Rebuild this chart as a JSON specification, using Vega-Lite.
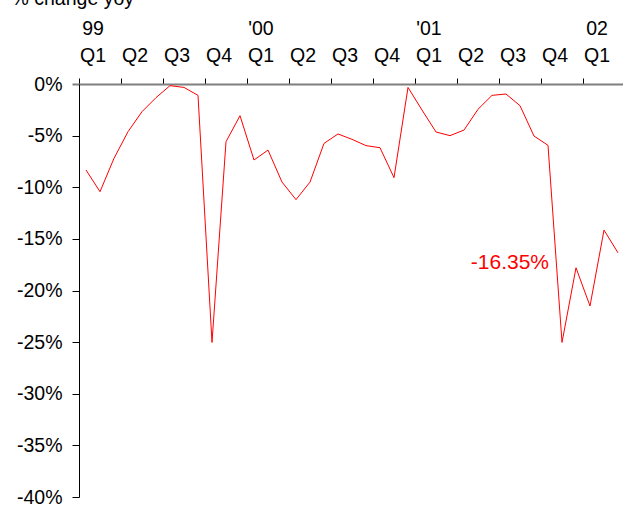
{
  "$schema": "https://vega.github.io/schema/vega-lite/v6.json",
  "autosize": "none",
  "width": 546,
  "height": 413,
  "padding": {"left": 79, "top": 84, "right": 0, "bottom": 8},
  "background": "white",
  "config": {
    "view": {"stroke": null},
    "font": "Liberation Sans",
    "axis": {"grid": false, "labelFont": "Liberation Sans", "titleFont": "Liberation Sans", "labelColor": "black", "titleColor": "black"}
  },
  "data": {
    "values": [
      {"month": "1999-01", "value": -8.33},
      {"month": "1999-02", "value": -10.43},
      {"month": "1999-03", "value": -7.2},
      {"month": "1999-04", "value": -4.62},
      {"month": "1999-05", "value": -2.68},
      {"month": "1999-06", "value": -1.32},
      {"month": "1999-07", "value": -0.16},
      {"month": "1999-08", "value": -0.33},
      {"month": "1999-09", "value": -1.1},
      {"month": "1999-10", "value": -25.03},
      {"month": "1999-11", "value": -5.59},
      {"month": "1999-12", "value": -3.07},
      {"month": "2000-01", "value": -7.36},
      {"month": "2000-02", "value": -6.4},
      {"month": "2000-03", "value": -9.5},
      {"month": "2000-04", "value": -11.2},
      {"month": "2000-05", "value": -9.5},
      {"month": "2000-06", "value": -5.75},
      {"month": "2000-07", "value": -4.84},
      {"month": "2000-08", "value": -5.36},
      {"month": "2000-09", "value": -5.97},
      {"month": "2000-10", "value": -6.17},
      {"month": "2000-11", "value": -9.07},
      {"month": "2000-12", "value": -0.33},
      {"month": "2001-01", "value": -2.52},
      {"month": "2001-02", "value": -4.65},
      {"month": "2001-03", "value": -5.0},
      {"month": "2001-04", "value": -4.46},
      {"month": "2001-05", "value": -2.45},
      {"month": "2001-06", "value": -1.1},
      {"month": "2001-07", "value": -0.97},
      {"month": "2001-08", "value": -2.1},
      {"month": "2001-09", "value": -5.04},
      {"month": "2001-10", "value": -5.94},
      {"month": "2001-11", "value": -25.03},
      {"month": "2001-12", "value": -17.8},
      {"month": "2002-01", "value": -21.5},
      {"month": "2002-02", "value": -14.15},
      {"month": "2002-03", "value": -16.35, "label": "-16.35%"}
    ]
  },
  "encoding": {
    "x": {
      "field": "month",
      "type": "ordinal",
      "sort": null,
      "bandPosition": 0.5,
      "scale": {"type": "band", "paddingInner": 0, "paddingOuter": 0},
      "axis": {
        "orient": "top",
        "title": null,
        "values": ["1999-01","1999-04","1999-07","1999-10","2000-01","2000-04","2000-07","2000-10","2001-01","2001-04","2001-07","2001-10","2002-01"],
        "bandPosition": 0,
        "labelOffset": 7,
        "labelAngle": 0,
        "labelAlign": "center",
        "labelBaseline": "alphabetic",
        "labelFontSize": 19.5,
        "labelLineHeight": 27.5,
        "labelPadding": 44,
        "labelExpr": "datum.value == '1999-01' ? ['99', 'Q1'] : datum.value == '2000-01' ? [\"'00\", 'Q1'] : datum.value == '2001-01' ? [\"'01\", 'Q1'] : datum.value == '2002-01' ? ['02', 'Q1'] : [' ', 'Q' + (floor((toNumber(substring(datum.value, 5, 7)) - 1) / 3) + 1)]",
        "domainColor": "#7f7f7f",
        "domainWidth": 2,
        "tickColor": "black",
        "tickWidth": 1,
        "tickSize": 6
      }
    },
    "y": {
      "field": "value",
      "type": "quantitative",
      "scale": {"domain": [-40, 0], "nice": false, "zero": false},
      "axis": {
        "orient": "left",
        "values": [-40, -35, -30, -25, -20, -15, -10, -5, 0],
        "labelExpr": "datum.value + '%'",
        "labelFontSize": 19.5,
        "labelPadding": 10,
        "tickSize": 7,
        "tickColor": {"condition": {"test": "datum.value == 0", "value": "#7f7f7f"}, "value": "black"},
        "tickWidth": {"condition": {"test": "datum.value == 0", "value": 2}, "value": 1},
        "domainColor": "black",
        "domainWidth": 1,
        "title": "% change yoy",
        "titleAngle": 0,
        "titleAlign": "left",
        "titleBaseline": "alphabetic",
        "titleFontSize": 19.5,
        "titleFontWeight": "normal",
        "titleX": -68,
        "titleY": -80
      }
    }
  },
  "layer": [
    {"mark": {"type": "line", "color": "red", "strokeWidth": 1, "clip": false}},
    {
      "transform": [{"filter": "datum.label != null"}],
      "mark": {"type": "text", "color": "red", "fontSize": 21, "align": "right", "baseline": "alphabetic", "dx": -69, "dy": 16.5, "font": "Liberation Sans"},
      "encoding": {"text": {"field": "label"}}
    }
  ]
}
